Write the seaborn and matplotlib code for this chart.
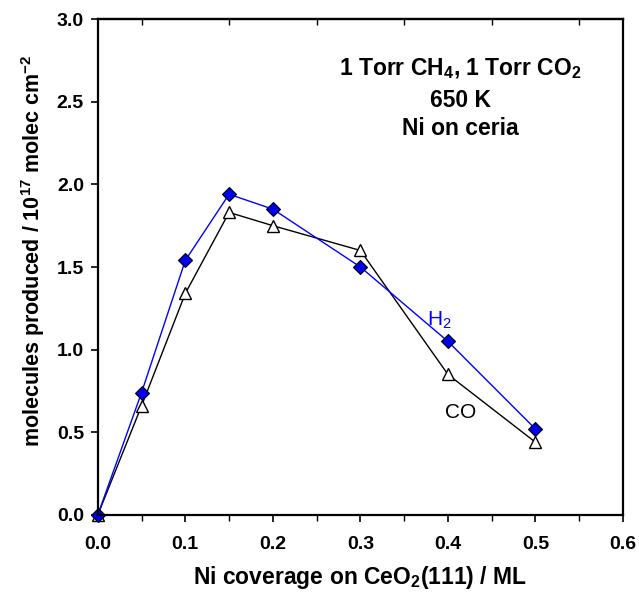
import numpy as np
import pandas as pd
import matplotlib
matplotlib.use('Agg')
import matplotlib.pyplot as plt
import seaborn as sns
from matplotlib.ticker import MultipleLocator, FormatStrFormatter, FixedLocator, NullLocator

# Ni coverage (ML) and yields (1e17 molec/cm2)
coverage = [0.0, 0.05, 0.10, 0.15, 0.20, 0.30, 0.40, 0.50]
h2_yield = [0.0, 0.74, 1.54, 1.94, 1.85, 1.50, 1.05, 0.52]
co_yield = [0.0, 0.66, 1.34, 1.83, 1.75, 1.60, 0.85, 0.44]
top_ticks = [0.05, 0.15, 0.25, 0.35, 0.45, 0.55]

sns.set_style('ticks')
plt.rcParams['font.family'] = ['Liberation Sans', 'DejaVu Sans']
plt.rcParams['mathtext.fontset'] = 'custom'
plt.rcParams['mathtext.rm'] = 'Liberation Sans'
plt.rcParams['mathtext.bf'] = 'Liberation Sans:bold'
plt.rcParams['text.color'] = 'black'
plt.rcParams['axes.labelcolor'] = 'black'
plt.rcParams['xtick.color'] = 'black'
plt.rcParams['ytick.color'] = 'black'

df = pd.DataFrame({'x': coverage, 'H2': h2_yield, 'CO': co_yield})

fig, ax = plt.subplots(figsize=(6.39, 5.94), dpi=100)
fig.subplots_adjust(left=0.153, right=0.975, top=0.968, bottom=0.133)

sns.lineplot(data=df, x='x', y='CO', ax=ax, color='black', lw=1,
             marker='^', markersize=8, markerfacecolor='white',
             markeredgecolor='black', markeredgewidth=1, clip_on=False)
sns.lineplot(data=df, x='x', y='H2', ax=ax, color='#0000ff', lw=1,
             marker='D', markersize=7, markerfacecolor='#0000ee',
             markeredgecolor='black', markeredgewidth=0.8, clip_on=False)

ax.set_xlim(0, 0.6)
ax.set_ylim(0, 3.0)
ax.xaxis.set_major_locator(MultipleLocator(0.1))
ax.xaxis.set_minor_locator(MultipleLocator(0.05))
ax.yaxis.set_major_locator(MultipleLocator(0.5))
ax.xaxis.set_major_formatter(FormatStrFormatter('%.1f'))
ax.yaxis.set_major_formatter(FormatStrFormatter('%.1f'))

for s in ax.spines.values():
    s.set_linewidth(1.6)
    s.set_color('black')
ax.tick_params(which='major', direction='out', length=5, width=1.2,
               labelsize=14, top=False, right=False)
ax.tick_params(axis='x', which='major', pad=10)
ax.tick_params(axis='y', which='major', pad=5)
ax.tick_params(which='minor', direction='out', length=4, width=1, top=False)
for lab in ax.get_xticklabels() + ax.get_yticklabels():
    lab.set_fontweight('bold')

# top edge has small inward ticks between the majors
top = ax.secondary_xaxis('top')
top.xaxis.set_major_locator(NullLocator())
top.xaxis.set_minor_locator(FixedLocator(top_ticks))
top.tick_params(which='minor', direction='in', length=4, width=1)
top.spines['top'].set_linewidth(1.6)

ax.set_xlabel(r'Ni coverage on CeO$_\mathbf{2}$(111) / ML', fontsize=16.5,
              fontweight='bold', labelpad=8)
ax.set_ylabel(r'molecules produced / 10$^\mathbf{17}$ molec cm$^\mathbf{-2}$',
              fontsize=15.5, fontweight='bold')
ax.yaxis.set_label_coords(-0.097, 0.532)

ax.text(0.414, 2.70, r'1 Torr CH$_\mathbf{4}$, 1 Torr CO$_\mathbf{2}$',
        ha='center', va='center', fontsize=16.5, fontweight='bold')
ax.text(0.414, 2.51, '650 K', ha='center', va='center', fontsize=16.5,
        fontweight='bold')
ax.text(0.414, 2.34, 'Ni on ceria', ha='center', va='center', fontsize=16.5,
        fontweight='bold')

ax.text(0.39, 1.18, r'H$_\mathrm{2}$', color='#0000ff', ha='center',
        va='center', fontsize=15)
ax.text(0.414, 0.62, 'CO', color='black', ha='center', va='center',
        fontsize=15)

fig.savefig('out.png', dpi=100)
